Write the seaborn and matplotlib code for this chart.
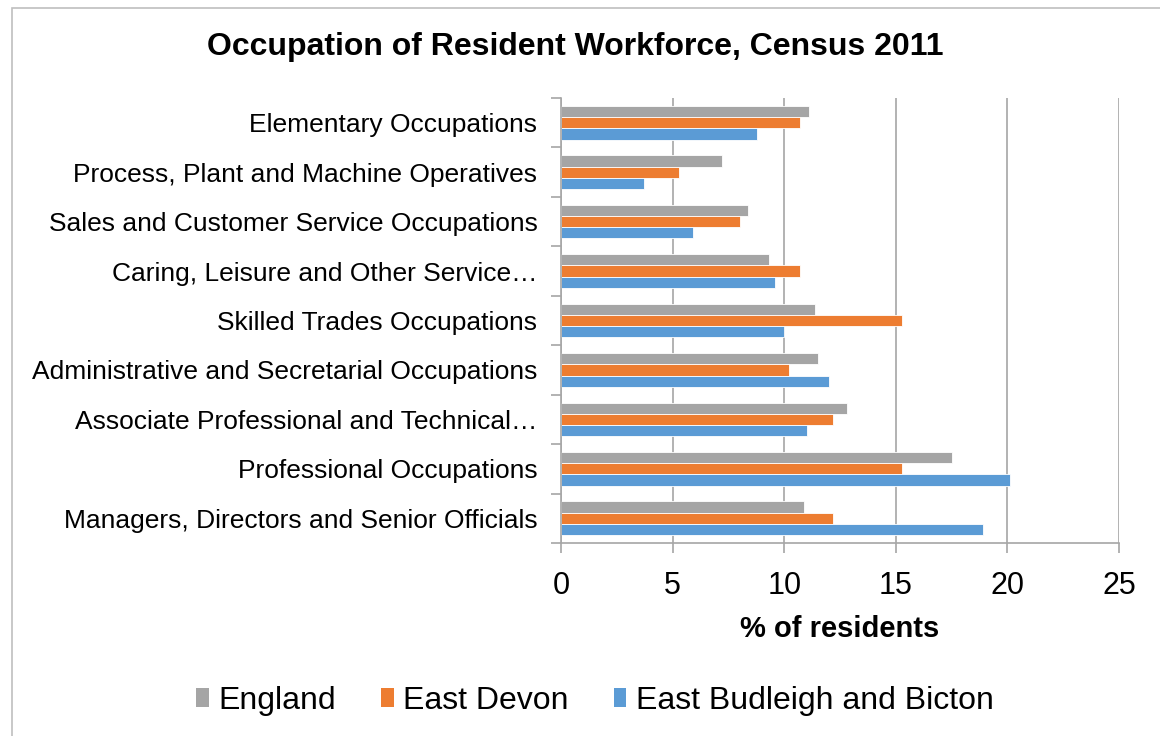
import numpy as np
import pandas as pd
import matplotlib
matplotlib.use("Agg")
import matplotlib.pyplot as plt
from matplotlib.patches import Rectangle, Patch
import seaborn as sns

# ----------------------------------------------------------------------
# Data
# ----------------------------------------------------------------------
categories = [
    "Elementary Occupations",
    "Process, Plant and Machine Operatives",
    "Sales and Customer Service Occupations",
    "Caring, Leisure and Other Service\u2026",
    "Skilled Trades Occupations",
    "Administrative and Secretarial Occupations",
    "Associate Professional and Technical\u2026",
    "Professional Occupations",
    "Managers, Directors and Senior Officials",
]
series = ["England", "East Devon", "East Budleigh and Bicton"]
england = [11.1, 7.2, 8.4, 9.3, 11.4, 11.5, 12.8, 17.5, 10.9]
east_devon = [10.7, 5.3, 8.0, 10.7, 15.3, 10.2, 12.2, 15.3, 12.2]
budleigh = [8.8, 3.7, 5.9, 9.6, 10.0, 12.0, 11.0, 20.1, 18.9]
x_ticks = [0, 5, 10, 15, 20, 25]

colors = ["#A5A5A5", "#ED7D31", "#5B9BD5"]

df = pd.DataFrame({
    "Occupation": categories * 3,
    "Area": np.repeat(series, len(categories)),
    "Value": england + east_devon + budleigh,
})

# ----------------------------------------------------------------------
# Plot
# ----------------------------------------------------------------------
sns.set_style("white")
plt.rcParams["font.family"] = ["Liberation Sans", "DejaVu Sans"]
plt.rcParams["text.color"] = "black"
plt.rcParams["axes.labelcolor"] = "black"
plt.rcParams["xtick.labelcolor"] = "black"
plt.rcParams["ytick.labelcolor"] = "black"

fig = plt.figure(figsize=(11.6, 7.36), dpi=100)
ax = fig.add_axes([561 / 1160, 1 - 543 / 736, 558 / 1160, 445 / 736])

sns.barplot(data=df, y="Occupation", x="Value", hue="Area", order=categories,
            hue_order=series, palette=colors, saturation=1, orient="h", width=0.68,
            edgecolor="white", linewidth=0.6, legend=False, ax=ax)

ax.set_xlim(0, 25)
ax.set_ylim(len(categories) - 0.5, -0.5)
ax.set_xticks(x_ticks)
ax.set_xticklabels([str(t) for t in x_ticks], fontsize=22)
ax.grid(axis="x", color="#A6A6A6", linewidth=1.2)
ax.set_axisbelow(True)

# category labels at centres, tick marks at boundaries
ax.tick_params(axis="y", which="major", length=0, pad=17, labelsize=19)
ax.set_yticks(np.arange(-0.5, len(categories) + 0.5), minor=True)
ax.tick_params(axis="y", which="minor", length=7, color="#A6A6A6", width=1.2, left=True)
ax.tick_params(axis="x", which="major", length=7, color="#A6A6A6", width=1.2,
               bottom=True, pad=13)

for side in ["top", "right"]:
    ax.spines[side].set_visible(False)
for side in ["left", "bottom"]:
    ax.spines[side].set_color("#A6A6A6")
    ax.spines[side].set_linewidth(1.2)

ax.set_ylabel("")
ax.set_xlabel("% of residents", fontsize=21, fontweight="bold", labelpad=10)

fig.text(0.496, 1 - 47 / 736, "Occupation of Resident Workforce, Census 2011",
         ha="center", va="center", fontsize=23, fontweight="bold")

handles = [Patch(facecolor=c, edgecolor="none") for c in colors]
fig.legend(handles, series, loc="center", bbox_to_anchor=(0.513, 1 - 701 / 736),
           ncol=3, frameon=False, fontsize=23, handlelength=0.4, handleheight=0.55,
           handletextpad=0.3, columnspacing=1.4)

# outer chart border
fig.patches.append(Rectangle((12 / 1160, -0.01), 1.0, 0.999,
                             transform=fig.transFigure, fill=False,
                             edgecolor="#BFBFBF", linewidth=1.2))

fig.savefig("out.png", dpi=100)
plt.close(fig)
